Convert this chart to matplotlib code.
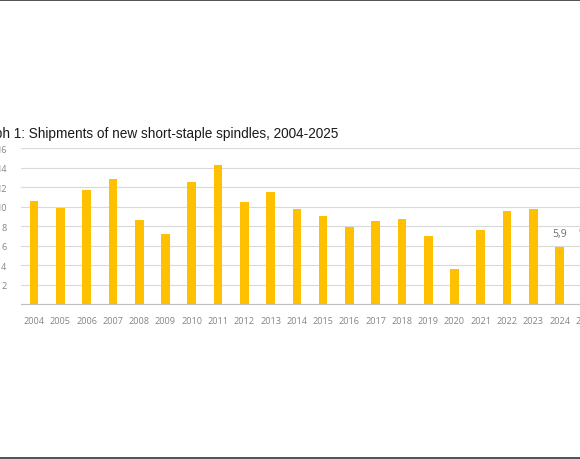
import matplotlib
matplotlib.use("Agg")
import matplotlib.pyplot as plt
from matplotlib.lines import Line2D

years = [str(y) for y in range(2004, 2026)]
spindles = [10.6, 9.9, 11.7, 12.8, 8.6, 7.2, 12.5, 14.3, 10.5, 11.5, 9.8,
            9.0, 7.9, 8.5, 8.7, 7.0, 3.6, 7.6, 9.6, 9.8, 5.9, 6.2]
labelled = ['2024', '2025']
y_ticks = [0, 2, 4, 6, 8, 10, 12, 14, 16]
title = 'Graph 1: Shipments of new short-staple spindles, 2004-2025'

bar_color = '#FFC000'
grey = '#858585'

fig = plt.figure(figsize=(5.8, 4.6), dpi=100)
# the screenshot is cropped on both sides, so the axes run past the figure
ax = fig.add_axes([21 / 580, 155 / 460, 578 / 580, 155.7 / 460])

x = range(len(years))
ax.bar(x, spindles, width=0.33, color=bar_color, zorder=2)

for i, (yr, v) in enumerate(zip(years, spindles)):
    if yr in labelled:
        ax.annotate(('%.1f' % v).replace('.', ','), (i, v), xytext=(0, 5.5),
                    textcoords='offset points', ha='center', va='bottom',
                    fontsize=7.6, color='#6F6F6F', family='Open Sans')

ax.set_xlim(-0.5, len(years) - 0.5)
ax.set_ylim(0, 16)
ax.set_yticks(y_ticks)
ax.set_yticklabels([str(t) if t else '' for t in y_ticks])
ax.set_xticks(list(x))
ax.set_xticklabels(years)
ax.grid(axis='y', color='#D9D9D9', linewidth=0.8, zorder=0)
for s in ['top', 'right', 'left']:
    ax.spines[s].set_visible(False)
ax.spines['bottom'].set_color('#BFBFBF')
ax.spines['bottom'].set_linewidth(0.8)
ax.tick_params(axis='both', length=0, colors=grey, labelsize=6.6)
ax.tick_params(axis='x', pad=9)
ax.tick_params(axis='y', pad=10.5)
for lab in ax.get_xticklabels() + ax.get_yticklabels():
    lab.set_family('Open Sans')

fig.text(338 / 580, 1 - 138 / 460, title, ha='right', va='baseline',
         fontsize=9.8, color='#1a1a1a', family='Liberation Sans')

# frame lines of the screenshot
fig.add_artist(Line2D([0, 1], [1 - 0.8 / 460] * 2, color='#333333', linewidth=1.2))
fig.add_artist(Line2D([0, 1], [0.9 / 460] * 2, color='#333333', linewidth=1.2))

plt.savefig('out.png', dpi=100)
